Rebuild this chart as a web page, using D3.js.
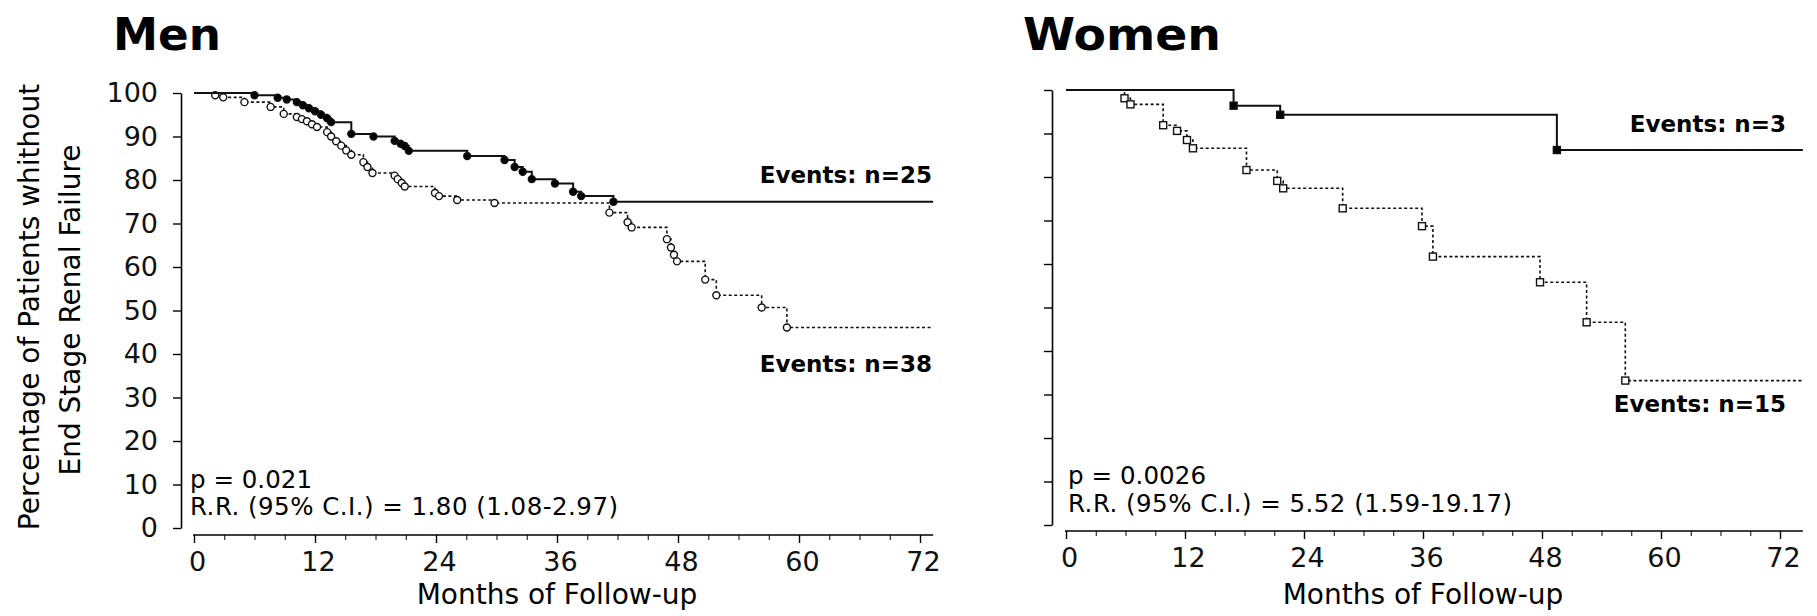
<!DOCTYPE html>
<html>
<head>
<meta charset="utf-8">
<script src="https://cdn.jsdelivr.net/npm/d3@7"></script>
<style>
  body { margin: 0; background: #fff; }
  svg { display: block; font-family: "DejaVu Sans", sans-serif; }
</style>
</head>
<body>
<div id="chart"></div>
<script>
// --- data: [month, % without ESRF] at each event ---
const menSolid = [
  [6.0, 99.5], [8.3, 98.9], [9.2, 98.5], [10.2, 97.9], [10.8, 97.2], [11.4, 96.5],
  [12.0, 95.8], [12.6, 95.0], [13.2, 94.2], [13.6, 93.3], [15.6, 90.6], [17.8, 90.0],
  [19.9, 89.0], [20.5, 88.3], [20.9, 87.8], [21.3, 86.7], [27.1, 85.5], [30.8, 84.6],
  [31.8, 83.0], [32.6, 81.9], [33.5, 80.2], [35.8, 79.2], [37.6, 77.3], [38.4, 76.3],
  [41.6, 75.0]
];
const menDashed = [
  [2.1, 99.5], [2.9, 99.0], [5.0, 97.9], [7.6, 96.8], [8.9, 95.2], [10.2, 94.5],
  [10.7, 94.0], [11.2, 93.5], [11.7, 92.8], [12.2, 92.2], [13.2, 91.0], [13.6, 90.0],
  [14.1, 88.9], [14.6, 87.9], [15.1, 86.8], [15.6, 85.8], [16.8, 84.1], [17.2, 83.0],
  [17.7, 81.6], [19.9, 81.0], [20.2, 80.2], [20.6, 79.3], [20.9, 78.5], [23.9, 77.0],
  [24.3, 76.3], [26.1, 75.4], [29.8, 74.7], [41.2, 72.5], [43.0, 70.3], [43.4, 69.1],
  [46.9, 66.4], [47.3, 64.5], [47.6, 62.8], [47.9, 61.3], [50.7, 57.1], [51.8, 53.5],
  [56.3, 50.7], [58.8, 46.1]
];
const womenSolid = [[16.9, 96.4], [21.6, 94.3], [49.5, 86.2]];
const womenDashed = [
  [5.9, 98.1], [6.5, 96.7], [9.8, 91.9], [11.2, 90.6], [12.2, 88.5], [12.8, 86.6],
  [18.2, 81.6], [21.3, 79.1], [21.9, 77.4], [27.9, 72.8], [35.9, 68.7], [37.0, 61.7],
  [47.8, 55.8], [52.5, 46.6], [56.4, 33.2]
];
const menEnd = 73.3;
const womenEnd = 74.3;

const xTicks = [0, 12, 24, 36, 48, 60, 72];
const xMinorTicks = d3.range(0, 73, 3);
const yTicks = [0, 10, 20, 30, 40, 50, 60, 70, 80, 90, 100];

const menStats = ["p = 0.021", "R.R. (95% C.I.) = 1.80 (1.08-2.97)"];
const womenStats = ["p = 0.0026", "R.R. (95% C.I.) = 5.52 (1.59-19.17)"];
const menEvents = ["Events: n=25", "Events: n=38"];
const womenEvents = ["Events: n=3", "Events: n=15"];

const width = 1817;
const height = 616;

const svg = d3.select("#chart").append("svg")
    .attr("width", width)
    .attr("height", height)
    .attr("viewBox", [0, 0, width, height]);

// y-axis title (shared, left)
svg.append("text")
    .attr("transform", "translate(39,307) rotate(-90)")
    .attr("text-anchor", "middle")
    .attr("font-size", 28)
    .text("Percentage of Patients whithout");
svg.append("text")
    .attr("transform", "translate(80,310) rotate(-90)")
    .attr("text-anchor", "middle")
    .attr("font-size", 28)
    .text("End Stage Renal Failure");

function drawPanel(p) {
    const x = d3.scaleLinear().domain([0, 72]).range([p.x0, p.x72]);
    const y = d3.scaleLinear().domain([0, 100]).range([p.y0, p.y100]);

    // title
    svg.append("text")
        .attr("x", p.titleX)
        .attr("y", 50)
        .attr("font-size", 45)
        .attr("font-weight", "bold")
        .attr("textLength", p.titleLen)
        .attr("lengthAdjust", "spacingAndGlyphs")
        .text(p.title);

    // y axis
    const yAxis = svg.append("g")
        .attr("transform", `translate(${p.yAxisX},0)`)
        .call(d3.axisLeft(y).tickValues(yTicks).tickSize(8).tickSizeOuter(0).tickPadding(15)
            .tickFormat(p.yLabels ? d3.format("d") : ""))
        .call(g => g.select(".domain").attr("stroke-width", 1.6))
        .call(g => g.selectAll(".tick line").attr("stroke-width", 1.4));
    yAxis.selectAll("text")
        .attr("font-size", 27)
        .attr("font-family", "DejaVu Sans")
        .attr("fill", "#111");

    // x axis
    const xg = svg.append("g").attr("transform", `translate(0,${p.xAxisY})`);
    xg.call(d3.axisBottom(x).tickValues(xMinorTicks).tickSize(5).tickFormat(""))
        .call(g => g.select(".domain").remove());
    xg.append("g")
        .call(d3.axisBottom(x).tickValues(xTicks).tickSize(8).tickPadding(9).tickFormat(d3.format("d")))
        .call(g => g.select(".domain").remove())
        .call(g => g.selectAll(".tick line").attr("stroke-width", 1.4))
        .call(g => g.selectAll("text")
            .attr("font-size", 27)
            .attr("font-family", "DejaVu Sans")
            .attr("fill", "#111")
            .attr("dx", 3));
    xg.append("line")
        .attr("x1", x(-0.1)).attr("x2", x(p.end))
        .attr("stroke", "#000").attr("stroke-width", 1.6);

    svg.append("text")
        .attr("x", x(36))
        .attr("y", 604)
        .attr("text-anchor", "middle")
        .attr("font-size", 28)
        .text("Months of Follow-up");

    // curves
    const line = d3.line()
        .x(d => x(d[0]))
        .y(d => y(d[1]))
        .curve(d3.curveStepAfter);

    const series = [
        { ev: p.dashed, dash: "3,2.5", w: 1.6, fill: "#fff" },
        { ev: p.solid, dash: null, w: 2, fill: "#000" }
    ];

    series.forEach(s => {
        const pts = [[0, 100]].concat(s.ev, [[p.end, s.ev[s.ev.length - 1][1]]]);
        svg.append("path")
            .datum(pts)
            .attr("fill", "none")
            .attr("stroke", "#111")
            .attr("stroke-width", s.w)
            .attr("stroke-dasharray", s.dash)
            .attr("d", line);

        if (p.marker === "circle") {
            svg.append("g")
                .selectAll("circle")
                .data(s.ev)
                .join("circle")
                .attr("cx", d => x(d[0]))
                .attr("cy", d => y(d[1]))
                .attr("r", 3.5)
                .attr("fill", s.fill)
                .attr("stroke", "#111")
                .attr("stroke-width", 1.4);
        } else {
            svg.append("g")
                .selectAll("rect")
                .data(s.ev)
                .join("rect")
                .attr("x", d => x(d[0]) - 3.5)
                .attr("y", d => y(d[1]) - 3.5)
                .attr("width", 7)
                .attr("height", 7)
                .attr("fill", s.fill)
                .attr("stroke", "#111")
                .attr("stroke-width", 1.4);
        }
    });

    // events labels
    svg.append("g")
        .attr("font-weight", "bold")
        .attr("font-size", 23)
        .attr("text-anchor", "end")
        .selectAll("text")
        .data(p.events)
        .join("text")
        .attr("x", p.eventsX)
        .attr("y", (d, i) => p.eventsY[i])
        .text(d => d);

    // stats
    svg.append("g")
        .attr("font-size", 24.5)
        .selectAll("text")
        .data(p.stats)
        .join("text")
        .attr("x", p.statsX)
        .attr("y", (d, i) => p.statsY[i])
        .attr("textLength", (d, i) => p.statsLen[i])
        .attr("lengthAdjust", "spacing")
        .text(d => d);
}

drawPanel({
    title: "Men", titleX: 113, titleLen: 108,
    x0: 194, x72: 920, y0: 528, y100: 93, yAxisX: 181, xAxisY: 535,
    yLabels: true, end: menEnd, marker: "circle",
    solid: menSolid, dashed: menDashed,
    events: menEvents, eventsX: 932, eventsY: [183, 372],
    stats: menStats, statsX: 190, statsY: [488, 515], statsLen: [122, 428]
});

drawPanel({
    title: "Women", titleX: 1023, titleLen: 198,
    x0: 1066, x72: 1780, y0: 525, y100: 90, yAxisX: 1052, xAxisY: 531,
    yLabels: false, end: womenEnd, marker: "square",
    solid: womenSolid, dashed: womenDashed,
    events: womenEvents, eventsX: 1786, eventsY: [132, 412],
    stats: womenStats, statsX: 1068, statsY: [484, 512], statsLen: [138, 444]
});
</script>
</body>
</html>
